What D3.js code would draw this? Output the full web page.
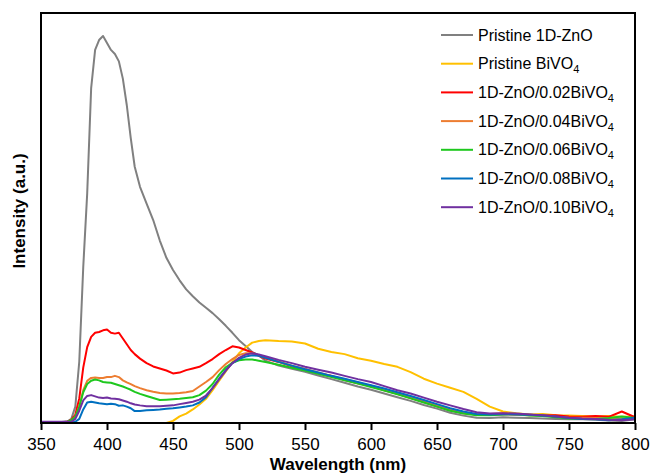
<!DOCTYPE html>
<html>
<head>
<meta charset="utf-8">
<script src="https://cdn.jsdelivr.net/npm/d3@7"></script>
<style>
  html, body { margin: 0; padding: 0; background: #fff; }
  svg { display: block; font-family: "Liberation Sans", Arial, sans-serif; }
</style>
</head>
<body>
<div id="chart"></div>
<script>
// PL spectra: pristine 1D-ZnO, pristine BiVO4 and the ZnO/BiVO4 composites.

const WAVELENGTH = [
  350, 360, 370, 373, 376, 379, 382, 385, 388, 391, 394, 397, 400, 403, 406, 409, 412, 415, 418, 421,
  425, 430, 435, 440, 445, 450, 455, 460, 465, 470, 475, 480, 485, 490, 495, 500, 505, 510, 515, 520,
  530, 540, 550, 560, 570, 580, 590, 600, 610, 620, 630, 640, 650, 660, 670, 680, 690, 700, 710, 720,
  730, 740, 750, 760, 770, 780, 790, 800
];

const ZNO = [
  0, 0, 0.4, 1, 4, 15, 38, 56, 81.7, 91, 93.4, 94.4, 92.7, 91, 90, 88.2, 84, 77.5, 69.5, 62.5,
  57.6, 53.5, 49.5, 44.5, 40.3, 37.3, 34.8, 32.6, 30.9, 29.4, 28.1, 26.8, 25.3, 23.7, 22, 20.2, 18.8, 17.3, 16.5, 15.2,
  14, 13.2, 12.5, 11.6, 10.7, 9.8, 8.9, 8.1, 7.2, 6.3, 5.4, 4.4, 3.5, 2.5, 1.8, 1.3, 1.2, 1.4, 1.3, 1.2,
  1.1, 1.0, 0.9, 0.9, 0.8, 0.6, 0.5, 0.9
];

const BIVO4 = [
  0, 0, 0, 0, 0, 0, 0, 0, 0, 0, 0, 0, 0, 0, 0, 0, 0, 0, 0, 0,
  0, 0, 0, 0, 0, 0.5, 1.6, 2.3, 3.3, 4.5, 5.9, 8, 10.3, 12.6, 14.9, 17, 18.4, 19.6, 20, 20.2,
  20, 19.9, 19.4, 18.1, 17.3, 16.8, 15.8, 15.2, 14.4, 13.7, 12.4, 10.8, 9.6, 8.6, 7.6, 5.9, 4, 2.8, 2.4, 2.1,
  2.2, 1.9, 1.8, 1.7, 1.6, 1.7, 1.5, 1.6
];

const ZB02 = [
  0, 0, 0.3, 0.8, 2, 6, 13.5, 18.5, 21, 22, 22.2, 22.6, 22.8, 22, 21.8, 22, 20.6, 19.2, 17.8, 16.8,
  15.7, 14.6, 13.8, 13.3, 12.8, 12.1, 12.3, 12.9, 13.3, 13.7, 14.6, 15.6, 16.8, 17.8, 18.7, 18.4, 17.8, 17.2, 16.4, 15.7,
  14.9, 13.8, 13.1, 12.1, 11.5, 10.5, 9.7, 9.1, 8, 7.1, 6.1, 5.1, 4.1, 3.1, 2.4, 2.1, 2.2, 2.3, 2.1, 2,
  1.8, 1.9, 1.6, 1.5, 1.7, 1.5, 2.8, 1.4
];

const ZB04 = [
  0, 0, 0.3, 0.6, 1.5, 4, 8, 10.3, 11, 11.1, 11, 11, 11.2, 11.2, 11.5, 11.2, 10.4, 9.9, 9.5, 9,
  8.5, 8, 7.6, 7.3, 7.2, 7.2, 7.3, 7.5, 7.8, 8.9, 10, 11.2, 12.9, 14.4, 15.6, 16.6, 17, 17, 16.5, 16,
  15, 14, 13.2, 12.3, 11.5, 10.7, 9.9, 9, 8.2, 7.3, 6.3, 5.3, 4.3, 3.3, 2.6, 2.1, 2, 2.1, 2, 1.9,
  1.8, 1.5, 1.3, 1.3, 1.2, 1.1, 1.1, 1
];

const ZB06 = [
  0.2, 0.2, 0.3, 0.7, 1.5, 4, 7.5, 9.5, 10.3, 10.6, 10.4, 10, 9.9, 9.8, 9.5, 9.2, 8.9, 8.5, 8.1, 7.6,
  7.1, 6.6, 6.1, 5.6, 5.7, 5.8, 5.9, 6.1, 6.3, 6.8, 7.9, 9.5, 11.8, 13.6, 14.7, 15.3, 15.5, 15.5, 15.2, 14.9,
  14.2, 13.5, 12.8, 12, 11.2, 10.4, 9.6, 8.8, 7.9, 7, 6, 5, 4, 3, 2.3, 1.9, 1.9, 2.1, 2.2, 1.8,
  1.7, 1.4, 1.1, 1, 1, 1.2, 1.6, 1.2
];

const ZB08 = [
  0, 0, 0, 0.1, 0.3, 1, 3.3, 5, 5.2, 5, 4.8, 4.7, 4.6, 4.7, 4.6, 4.2, 4.3, 4, 3.6, 2.9,
  2.9, 3.1, 3.2, 3.3, 3.5, 3.6, 3.8, 4, 4.3, 5, 6.3, 8.6, 10.8, 12.9, 14.6, 15.6, 16.2, 16.5, 16.4, 15.9,
  14.9, 14, 13.1, 12.3, 11.5, 10.8, 10, 9.2, 8.4, 7.5, 6.6, 5.6, 4.6, 3.6, 2.8, 2.2, 2.1, 2.2, 2.1, 2,
  1.8, 1.6, 1.2, 1, 0.9, 0.7, 0.9, 1.3
];

const ZB10 = [
  0.3, 0.3, 0.3, 0.3, 1, 3, 5.5, 6.6, 6.8, 6.5, 6.2, 6.1, 6.2, 6, 5.9, 5.8, 5.5, 5.2, 4.8, 4.5,
  4.3, 4.1, 4.1, 4.1, 4.2, 4.3, 4.6, 4.9, 5.2, 5.7, 6.7, 8.5, 10.7, 12.8, 14.6, 15.9, 16.7, 17, 16.7, 16.3,
  15.4, 14.6, 13.7, 13, 12.3, 11.5, 10.7, 10, 9, 8, 7.2, 6.2, 5.2, 4.3, 3.4, 2.6, 2.3, 2.4, 2.3, 2.1,
  1.9, 1.6, 1.3, 1.1, 1.0, 0.8, 0.7, 0.9
];

// label split into [main, subscript]
const LABELS = [
  ["Pristine 1D-ZnO", ""],
  ["Pristine BiVO", "4"],
  ["1D-ZnO/0.02BiVO", "4"],
  ["1D-ZnO/0.04BiVO", "4"],
  ["1D-ZnO/0.06BiVO", "4"],
  ["1D-ZnO/0.08BiVO", "4"],
  ["1D-ZnO/0.10BiVO", "4"],
];
const SERIES = [ZNO, BIVO4, ZB02, ZB04, ZB06, ZB08, ZB10];
const COLORS = ["#808080", "#ffc000", "#ff0000", "#ed7d31", "#1ec81e", "#0070c0", "#7030a0"];

const X_TICKS = [350, 400, 450, 500, 550, 600, 650, 700, 750, 800];

// ── Layout ───────────────────────────────────────────────────────────────────

const W = 655, H = 473;
const margin = { top: 13, right: 20, bottom: 50, left: 41 };
const innerW = W - margin.left - margin.right;
const innerH = H - margin.top - margin.bottom;

const svg = d3.select("#chart").append("svg")
  .attr("width", W)
  .attr("height", H);

const g = svg.append("g")
  .attr("transform", `translate(${margin.left},${margin.top})`);

// ── Scales ───────────────────────────────────────────────────────────────────

const x = d3.scaleLinear().domain([350, 800]).range([0, innerW]);
const y = d3.scaleLinear().domain([0, 100]).range([innerH, 0]);

// ── Axes ─────────────────────────────────────────────────────────────────────

g.append("g")
  .attr("transform", `translate(0,${innerH})`)
  .call(d3.axisBottom(x).tickValues(X_TICKS).tickSize(7).tickSizeOuter(0).tickPadding(8))
  .call(ax => ax.select(".domain").remove())
  .call(ax => ax.selectAll(".tick line").attr("stroke", "#000").attr("stroke-width", 2))
  .selectAll("text")
    .style("font-size", "17px")
    .style("font-family", "Liberation Sans, Arial, sans-serif")
    .style("fill", "#000");

g.append("text")
  .attr("x", innerW / 2)
  .attr("y", innerH + 47)
  .attr("text-anchor", "middle")
  .style("font-size", "17px")
  .style("font-weight", "bold")
  .text("Wavelength (nm)");

g.append("text")
  .attr("transform", "rotate(-90)")
  .attr("x", -(211 - margin.top))
  .attr("y", -16)
  .attr("text-anchor", "middle")
  .style("font-size", "17px")
  .style("font-weight", "bold")
  .text("Intensity (a.u.)");

// ── Lines ────────────────────────────────────────────────────────────────────

const line = d3.line()
  .x((d, i) => x(WAVELENGTH[i]))
  .y(d => y(d));

SERIES.forEach((vals, k) => {
  g.append("path")
    .datum(vals)
    .attr("fill", "none")
    .attr("stroke", COLORS[k])
    .attr("stroke-width", 2)
    .attr("stroke-linejoin", "round")
    .attr("d", line);
});

// plot frame on top
g.append("rect")
  .attr("width", innerW)
  .attr("height", innerH)
  .attr("fill", "none")
  .attr("stroke", "#000")
  .attr("stroke-width", 2);

// ── Legend ───────────────────────────────────────────────────────────────────

const legend = svg.append("g").attr("transform", "translate(441,35)");
const ROW = 28.7;

LABELS.forEach(([main, sub], k) => {
  const row = legend.append("g").attr("transform", `translate(0,${k * ROW})`);
  row.append("line")
    .attr("x1", 0).attr("x2", 32)
    .attr("stroke", COLORS[k])
    .attr("stroke-width", 2);
  const t = row.append("text")
    .attr("x", 37)
    .attr("y", 5.5)
    .style("font-size", "16px")
    .style("fill", "#000")
    .text(main);
  if (sub) {
    t.append("tspan")
      .attr("dy", 4)
      .style("font-size", "11px")
      .text(sub);
  }
});
</script>
</body>
</html>
